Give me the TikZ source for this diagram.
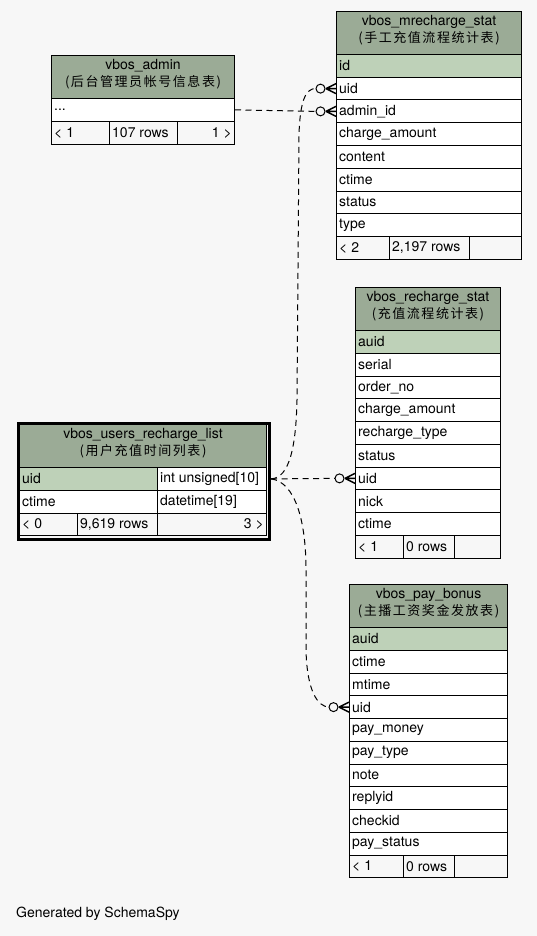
\documentclass[tikz,border=0pt]{standalone}
\usepackage{fontspec}
\setmainfont{TeX Gyre Heros}
\newfontfamily\cjk[LetterSpace=12]{Noto Sans CJK SC}
\definecolor{bg}{HTML}{F7F7F7}
\definecolor{hdr}{HTML}{9BAB96}
\definecolor{keyc}{HTML}{BED1B8}
\definecolor{foot}{HTML}{F7F7F7}
\tikzset{
  cell/.style={draw=black, line width=1pt, anchor=north west, inner sep=0pt, minimum height=22.75pt},
  hbox/.style={draw=black, line width=1pt, fill=hdr, anchor=north west, inner sep=0pt, minimum height=43pt},
  ctext/.style={inner sep=0pt, font=\fontsize{14}{16}\selectfont},
  htext/.style={inner sep=0pt, font=\fontsize{14}{16}\selectfont},
  ctitle/.style={inner sep=0pt, font=\fontsize{13}{15}\cjk},
  conn/.style={line width=1pt, dash pattern=on 6pt off 4.5pt},
  crowline/.style={line width=1.4pt},
}
\newcommand\tcell[6]{%
  \node[cell, fill=#5, minimum width=#4pt] (#1) at (#2,#3) {};
  \node[ctext, anchor=west] (#1-t) at ([xshift=3pt]#1.west) {#6};}
\newcommand\rcell[6]{%
  \node[cell, fill=#5, minimum width=#4pt] (#1) at (#2,#3) {};
  \node[ctext, anchor=east] (#1-t) at ([xshift=-3pt]#1.east) {#6};}
\newcommand\thead[6]{%
  \node[hbox, minimum width=#4pt] (#1) at (#2,#3) {};
  \node[htext] (#1-a) at ([yshift=-11pt]#1.north) {#5};
  \node[ctitle] (#1-b) at ([yshift=-27.5pt]#1.north) {#6};}
\newcommand\crowend[1]{%
  \draw[line width=1pt, fill=bg] ([xshift=-15.5pt]#1.west) circle (4.5pt);
  \draw[crowline] ([xshift=-10pt]#1.west) -- ([yshift=5pt]#1.west)
                  ([xshift=-10pt]#1.west) -- (#1.west)
                  ([xshift=-10pt]#1.west) -- ([yshift=-5pt]#1.west);}
\begin{document}
\begin{tikzpicture}[x=1pt,y=-1pt]
\fill[bg] (0,0) rectangle (537,936);
\useasboundingbox (0,0) rectangle (537,936);

% vbos_admin
\thead{ad}{51}{55}{183}{vbos\_admin}{(后台管理员帐号信息表)}
\tcell{ad-dots}{51}{98}{183}{white}{...}
\tcell{ad-f1}{51}{121}{58}{foot}{< 1}
\tcell{ad-f2}{109}{121}{68}{foot}{107 rows}
\rcell{ad-f3}{177}{121}{57}{foot}{1 >}

% vbos_mrecharge_stat
\thead{ms}{336}{11}{185}{vbos\_mrecharge\_stat}{(手工充值流程统计表)}
\tcell{ms-id}{336}{54}{185}{keyc}{id}
\tcell{ms-uid}{336}{76.75}{185}{white}{uid}
\tcell{ms-admin}{336}{99.5}{185}{white}{admin\_id}
\tcell{ms-charge}{336}{122.25}{185}{white}{charge\_amount}
\tcell{ms-content}{336}{145}{185}{white}{content}
\tcell{ms-ctime}{336}{167.75}{185}{white}{ctime}
\tcell{ms-status}{336}{190.5}{185}{white}{status}
\tcell{ms-type}{336}{213.25}{185}{white}{type}
\tcell{ms-f1}{336}{236}{53}{foot}{< 2}
\tcell{ms-f2}{389}{236}{80}{foot}{2,197 rows}
\tcell{ms-f3}{469}{236}{52}{foot}{}

% vbos_recharge_stat
\thead{rs}{355}{287}{145}{vbos\_recharge\_stat}{(充值流程统计表)}
\tcell{rs-auid}{355}{330}{145}{keyc}{auid}
\tcell{rs-serial}{355}{352.75}{145}{white}{serial}
\tcell{rs-order}{355}{375.5}{145}{white}{order\_no}
\tcell{rs-charge}{355}{398.25}{145}{white}{charge\_amount}
\tcell{rs-rtype}{355}{421}{145}{white}{recharge\_type}
\tcell{rs-status}{355}{443.75}{145}{white}{status}
\tcell{rs-uid}{355}{466.5}{145}{white}{uid}
\tcell{rs-nick}{355}{489.25}{145}{white}{nick}
\tcell{rs-ctime}{355}{512}{145}{white}{ctime}
\tcell{rs-f1}{355}{534.75}{48}{foot}{< 1}
\tcell{rs-f2}{403}{534.75}{51}{foot}{0 rows}
\tcell{rs-f3}{454}{534.75}{46}{foot}{}

% vbos_users_recharge_list
\thead{ur}{19}{424}{247}{vbos\_users\_recharge\_list}{(用户充值时间列表)}
\tcell{ur-uid}{19}{467}{138}{keyc}{uid}
\tcell{ur-uidt}{157}{467}{109}{white}{int unsigned[10]}
\tcell{ur-ctime}{19}{489.75}{138}{white}{ctime}
\tcell{ur-ctimet}{157}{489.75}{109}{white}{datetime[19]}
\tcell{ur-f1}{19}{512.5}{58}{foot}{< 0}
\tcell{ur-f2}{77}{512.5}{80}{foot}{9,619 rows}
\rcell{ur-f3}{157}{512.5}{109}{foot}{3 >}
\node[draw=black, line width=3pt, anchor=north west, inner sep=0pt, minimum width=251pt, minimum height=116pt] (ur-frame) at (17,422) {};

% vbos_pay_bonus
\thead{pb}{349}{584}{158}{vbos\_pay\_bonus}{(主播工资奖金发放表)}
\tcell{pb-auid}{349}{627}{158}{keyc}{auid}
\tcell{pb-ctime}{349}{649.75}{158}{white}{ctime}
\tcell{pb-mtime}{349}{672.5}{158}{white}{mtime}
\tcell{pb-uid}{349}{695.25}{158}{white}{uid}
\tcell{pb-money}{349}{718}{158}{white}{pay\_money}
\tcell{pb-ptype}{349}{740.75}{158}{white}{pay\_type}
\tcell{pb-note}{349}{763.5}{158}{white}{note}
\tcell{pb-reply}{349}{786.25}{158}{white}{replyid}
\tcell{pb-check}{349}{809}{158}{white}{checkid}
\tcell{pb-pstatus}{349}{831.75}{158}{white}{pay\_status}
\tcell{pb-f1}{349}{854.5}{54}{foot}{< 1}
\tcell{pb-f2}{403}{854.5}{51}{foot}{0 rows}
\tcell{pb-f3}{454}{854.5}{53}{foot}{}

% connectors
\draw[conn] (ad-dots.east) -- ([xshift=-20pt]ms-admin.west);
\crowend{ms-admin}
\draw[conn] (ur-frame.east |- ur-uidt.east) .. controls (290,478) and (296,445) .. (297,400)
  -- (299,135) .. controls (300,100) and (306,88.1) .. ([xshift=-20pt]ms-uid.west);
\crowend{ms-uid}
\draw[conn] (ur-frame.east |- ur-uidt.east) -- ([xshift=-20pt]rs-uid.west);
\crowend{rs-uid}
\draw[conn] (ur-frame.east |- ur-uidt.east) .. controls (295,482) and (306,520) .. (306,570)
  -- (306,650) .. controls (307,692) and (318,706.6) .. ([xshift=-20pt]pb-uid.west);
\crowend{pb-uid}

\node[ctext, anchor=west] (gen) at (16,913.5) {Generated by SchemaSpy};
\end{tikzpicture}
\end{document}
